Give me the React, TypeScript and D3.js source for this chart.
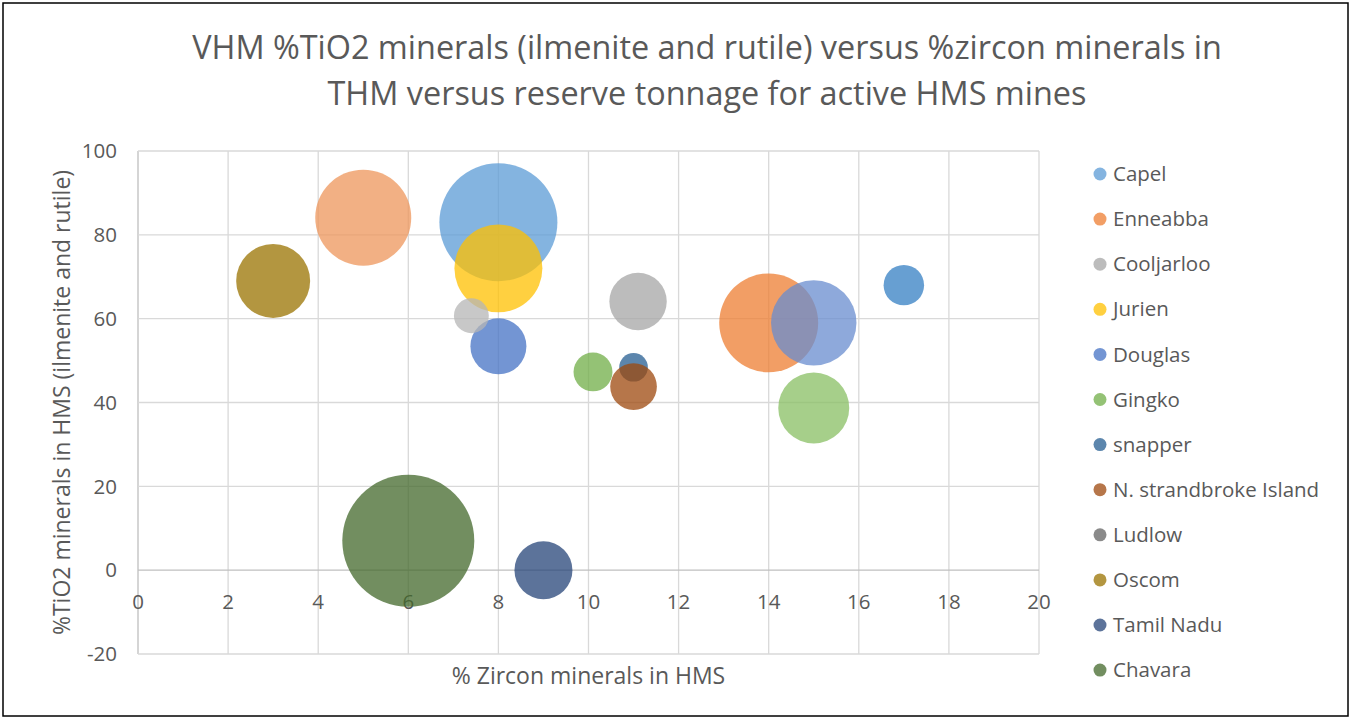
import React from "react";
import * as d3 from "d3";

// ---- data ----
const legendNames = [
  "Capel", "Enneabba", "Cooljarloo", "Jurien", "Douglas", "Gingko",
  "snapper", "N. strandbroke Island", "Ludlow", "Oscom", "Tamil Nadu", "Chavara",
];
const legendColors = [
  "#5B9BD5", "#ED7D31", "#A5A5A5", "#FFC000", "#4472C4", "#70AD47",
  "#255E91", "#9E480E", "#636363", "#997300", "#264478", "#43682B",
];

// bubbles, in drawing order
const bubbleSeries = [
  "Capel", "Enneabba", "Cooljarloo", "Jurien", "Douglas", "Gingko",
  "snapper", "N. strandbroke Island", "Oscom", "Tamil Nadu", "Chavara",
  "Series13", "Series14", "Series15", "Series17", "Series18",
];
const zirconPct = [8, 14, 11.1, 8, 8, 10.1, 11, 11, 3, 9, 6, 17, 5, 7.4, 15, 15];
const tio2Pct = [83, 59, 64.1, 72, 53.4, 47.3, 48.4, 43.8, 69, 0, 7, 68, 84.1, 60.7, 59, 38.7];
const tonnage = [799, 562, 189, 444, 180, 87, 47, 125, 314, 193, 1000, 94, 529, 70, 419, 289];
const bubbleColors = [
  "#5B9BD5", "#ED7D31", "#A5A5A5", "#FFC000", "#4472C4", "#70AD47",
  "#255E91", "#9E480E", "#997300", "#264478", "#43682B",
  "#347FC3", "#EE965B", "#B6B6B6", "#688CCF", "#88BF63",
];

const xTicks = [0, 2, 4, 6, 8, 10, 12, 14, 16, 18, 20];
const yTicks = [-20, 0, 20, 40, 60, 80, 100];

const titleLines = [
  "VHM %TiO2 minerals (ilmenite and rutile) versus %zircon minerals in",
  "THM versus reserve tonnage for active HMS mines",
];
const xTitle = "% Zircon minerals in HMS";
const yTitle = "%TiO2 minerals in HMS (ilmenite and rutile)";

const W = 1351;
const H = 720;
const FONT = "'Open Sans', Lato, sans-serif";
const TXT = "#595959";

export default function App() {
  const x = d3.scaleLinear().domain([0, 20]).range([138, 1039]);
  const y = d3.scaleLinear().domain([-20, 100]).range([654, 151]);
  const r = d3.scaleSqrt().domain([0, d3.max(tonnage) as number]).range([0, 66]);

  return (
    <svg
      width={W}
      height={H}
      style={{ position: "absolute", left: 0, top: 0, background: "#fff" }}
      fontFamily={FONT}
    >
      <rect x={0} y={0} width={W} height={H} fill="#fff" />
      <rect x={3} y={3} width={1345} height={713} fill="none" stroke="#000" strokeWidth={1.5} />

      {titleLines.map((t, i) => (
        <text key={i} x={707} y={59 + i * 46} textAnchor="middle" fontSize={32.4} fill={TXT}>
          {t}
        </text>
      ))}

      {/* gridlines */}
      {xTicks.map((t) => (
        <line key={"gx" + t} x1={x(t)} x2={x(t)} y1={y(100)} y2={y(-20)}
          stroke={t === 0 ? "#BFBFBF" : "#D9D9D9"} strokeWidth={1.3} />
      ))}
      {yTicks.map((t) => (
        <line key={"gy" + t} x1={x(0)} x2={x(20)} y1={y(t)} y2={y(t)}
          stroke={t === 0 ? "#BFBFBF" : "#D9D9D9"} strokeWidth={1.3} />
      ))}

      {/* tick labels */}
      {yTicks.map((t) => (
        <text key={"ly" + t} x={117} y={y(t)} dy="0.35em" textAnchor="end" fontSize={20.5} fill={TXT}>
          {t}
        </text>
      ))}
      {xTicks.map((t) => (
        <text key={"lx" + t} x={x(t)} y={y(0) + 32} dy="0.35em" textAnchor="middle" fontSize={20.5} fill={TXT}>
          {t}
        </text>
      ))}

      {/* bubbles */}
      {zirconPct.map((v, i) => (
        <circle key={"b" + i} cx={x(v)} cy={y(tio2Pct[i])} r={r(tonnage[i])}
          fill={bubbleColors[i]} fillOpacity={0.75}>
          <title>{bubbleSeries[i]}</title>
        </circle>
      ))}

      {/* axis titles */}
      <text x={(x(0) + x(20)) / 2} y={676} dy="0.35em" textAnchor="middle" fontSize={23} fill={TXT}>
        {xTitle}
      </text>
      <text transform={`translate(62,${(y(100) + y(-20)) / 2}) rotate(-90)`} dy="0.35em"
        textAnchor="middle" fontSize={23} fill={TXT}>
        {yTitle}
      </text>

      {/* legend */}
      {legendNames.map((n, i) => (
        <g key={"lg" + i} transform={`translate(1100,${174 + i * 45.1})`}>
          <circle r={6.5} fill={legendColors[i]} fillOpacity={0.75} />
          <text x={13} dy="0.35em" fontSize={20.5} fill={TXT}>{n}</text>
        </g>
      ))}
    </svg>
  );
}
